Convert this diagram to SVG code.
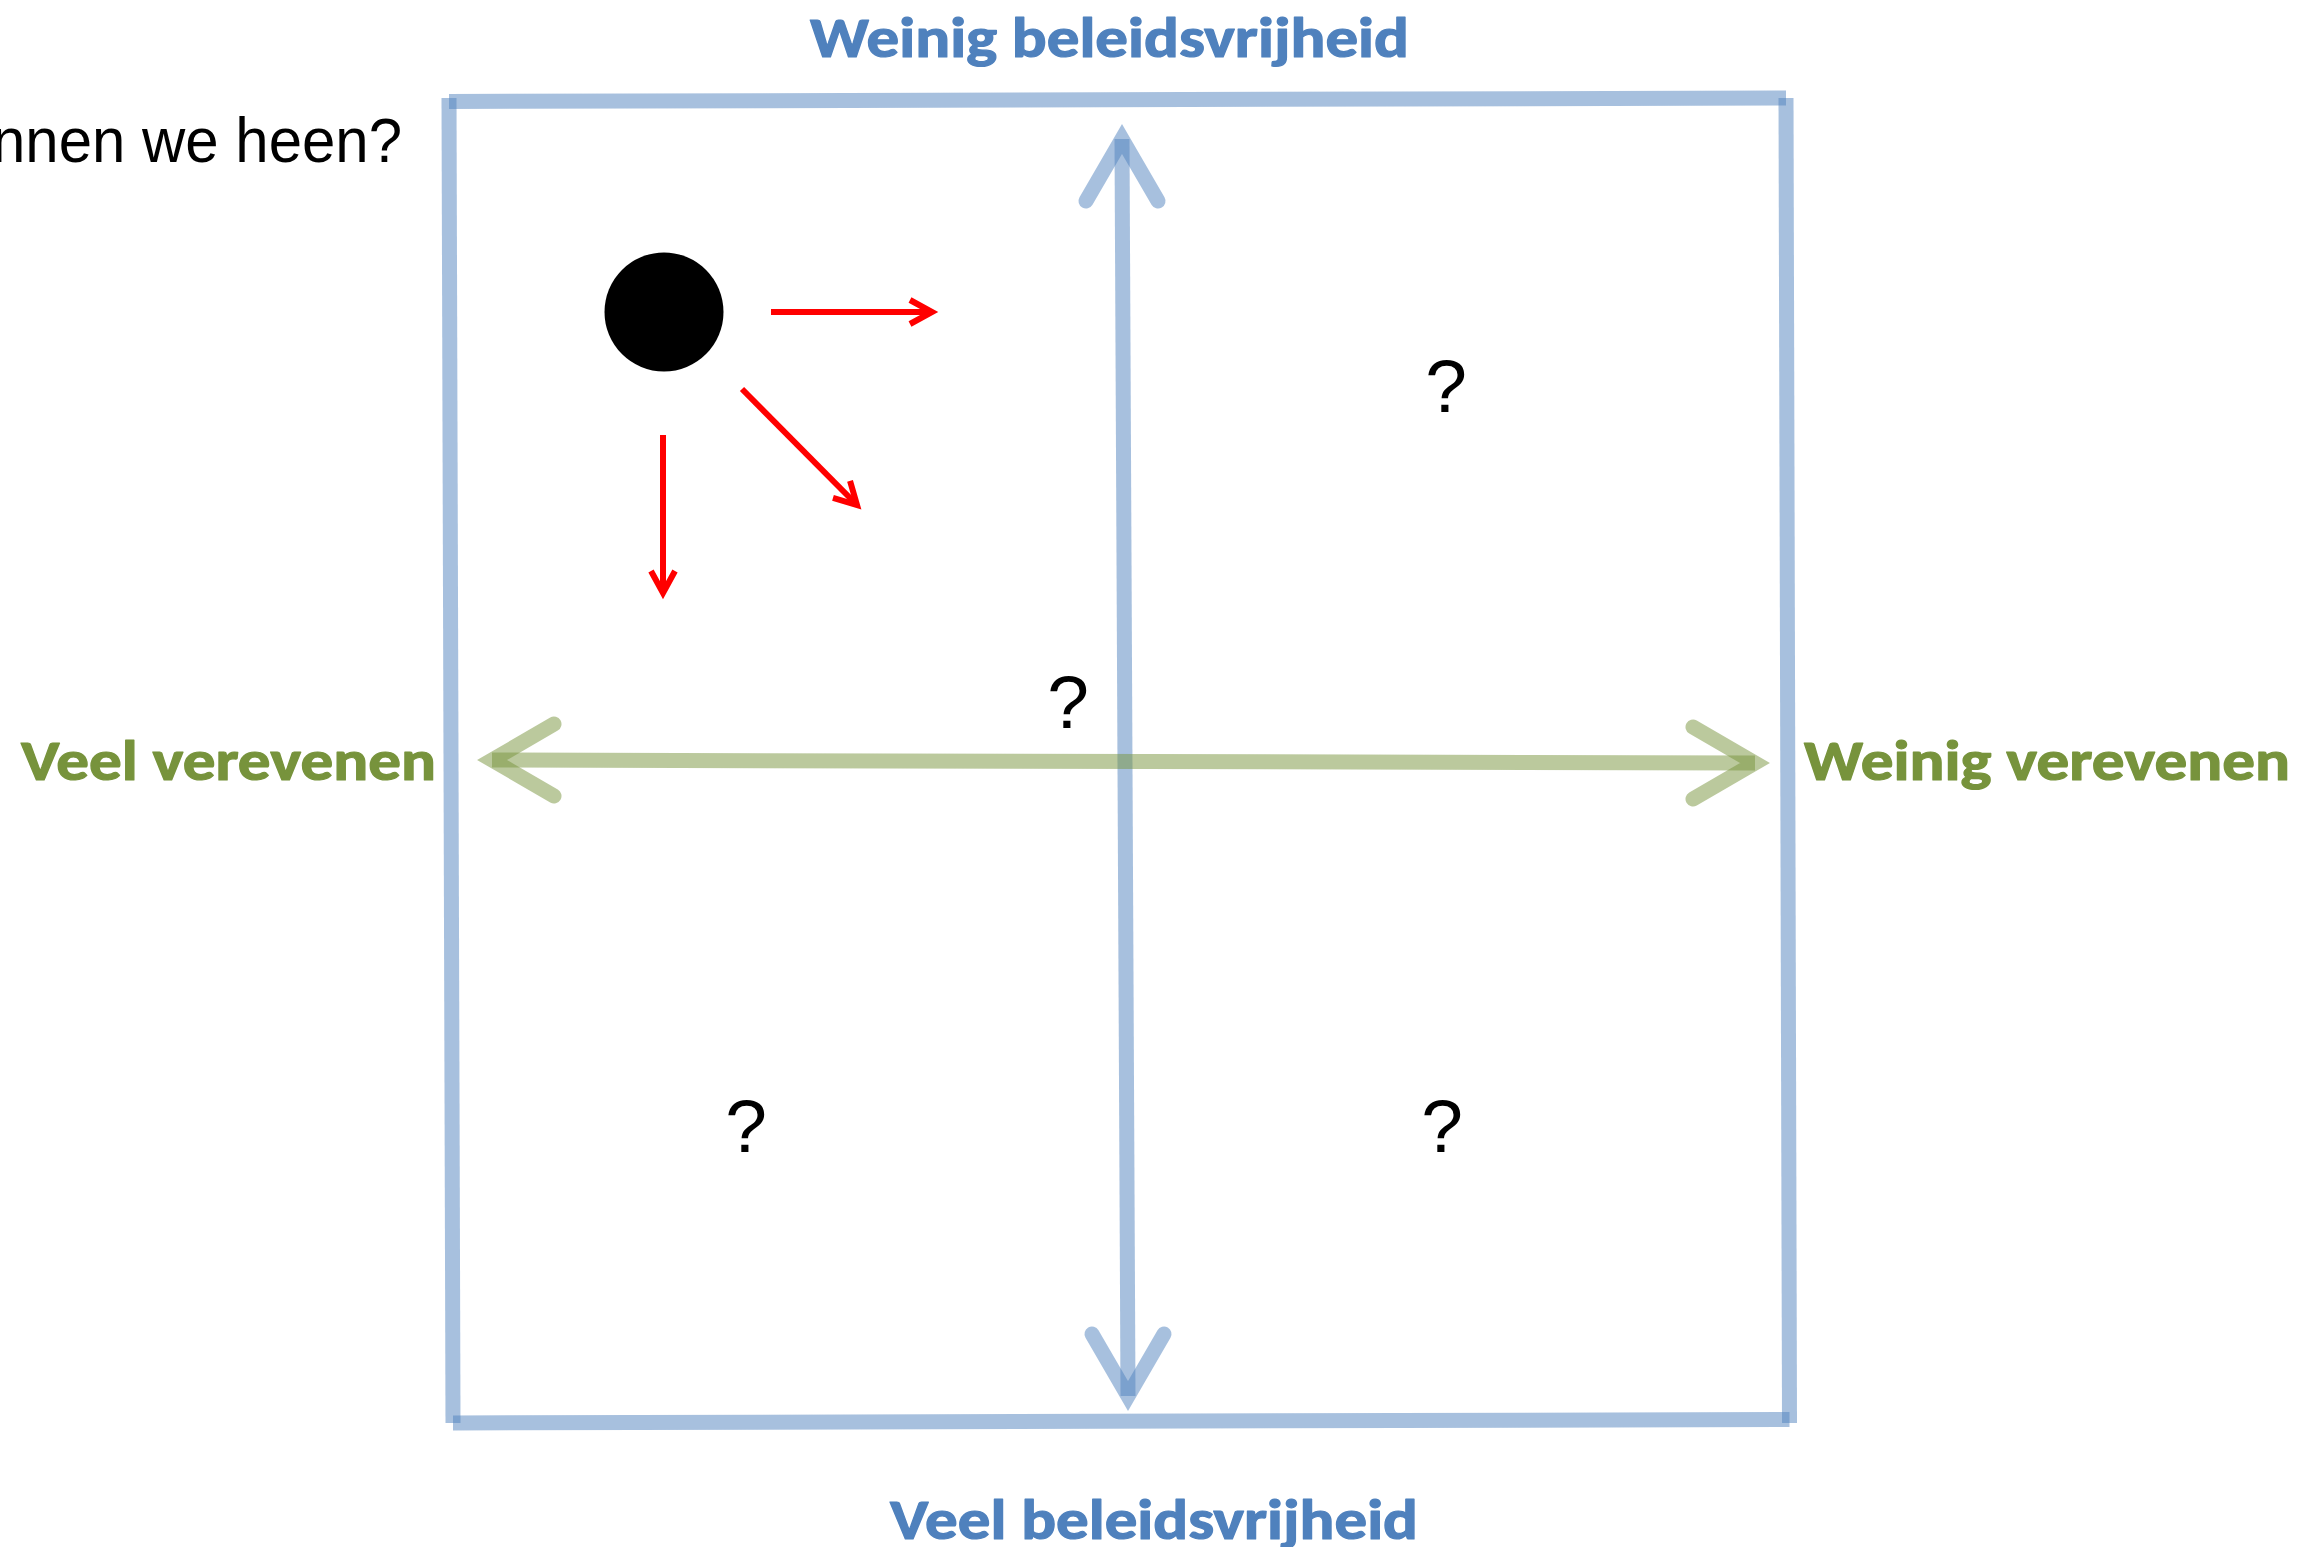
<svg xmlns="http://www.w3.org/2000/svg" width="2323" height="1547" viewBox="0 0 2323 1547">
  <defs>
    <style>
      .frame { fill: none; stroke: #4F81BD; stroke-opacity: 0.5; stroke-width: 15; stroke-linecap: butt; }
      .shaft-b { fill: none; stroke: #4F81BD; stroke-opacity: 0.5; stroke-width: 15; stroke-linecap: butt; }
      .head-b { fill: none; stroke: #4F81BD; stroke-opacity: 0.5; stroke-width: 15; stroke-linecap: round; stroke-linejoin: miter; }
      .shaft-g { fill: none; stroke: #77933C; stroke-opacity: 0.5; stroke-width: 15; stroke-linecap: butt; }
      .head-g { fill: none; stroke: #77933C; stroke-opacity: 0.5; stroke-width: 15; stroke-linecap: round; stroke-linejoin: miter; }
      .red { fill: none; stroke: #FF0000; stroke-width: 6; marker-end: url(#redHead); }
      .lbl { font-family: Carlito, Lato, "Open Sans", sans-serif; font-weight: 700; font-size: 57px; stroke-width: 1.2; stroke-linejoin: round; }
      .lbl-b { fill: #4F81BD; stroke: #4F81BD; }
      .lbl-g { fill: #77933C; stroke: #77933C; }
      .q { font-family: "Liberation Sans", Arial, sans-serif; font-size: 75px; fill: #000000; text-anchor: middle; }
      .title { font-family: "Liberation Sans", Arial, sans-serif; font-size: 63px; fill: #000000; }
    </style>
    <marker id="redHead" markerUnits="userSpaceOnUse" markerWidth="40" markerHeight="40" viewBox="-30 -20 40 40" refX="0" refY="0" orient="auto">
      <path d="M-22,-12 L0,0 L-22,12" fill="none" stroke="#FF0000" stroke-width="6"/>
    </marker>
  </defs>

  <rect x="0" y="0" width="2323" height="1547" fill="#FFFFFF"/>

  <g id="title">
    <text class="title" x="-8" y="162" textLength="410" lengthAdjust="spacingAndGlyphs">nnen we heen?</text>
  </g>

  <g id="frame">
    <line class="frame" x1="449" y1="101.5" x2="1786" y2="98"/>
    <line class="frame" x1="1786" y1="98" x2="1789.5" y2="1423"/>
    <line class="frame" x1="1789.5" y1="1419.5" x2="453" y2="1423"/>
    <line class="frame" x1="453" y1="1423" x2="449" y2="98"/>
  </g>

  <g id="connectors">
    <g id="axis-vertical">
      <line class="shaft-b" x1="1122" y1="139" x2="1128" y2="1396"/>
      <polyline class="head-b" points="1086,201 1122,139 1158,201"/>
      <polyline class="head-b" points="1092,1334 1128,1396 1164,1334"/>
    </g>
    <g id="axis-horizontal">
      <line class="shaft-g" x1="492" y1="760" x2="1755" y2="763"/>
      <polyline class="head-g" points="554,724 492,760 554,796"/>
      <polyline class="head-g" points="1693,727 1755,763 1693,799"/>
    </g>
    <g id="red-arrows">
      <line class="red" x1="771" y1="312" x2="932" y2="312"/>
      <line class="red" x1="742" y1="389" x2="857" y2="505"/>
      <line class="red" x1="663" y1="435" x2="663" y2="593"/>
    </g>
  </g>

  <g id="dot">
    <circle cx="664" cy="312" r="59.5" fill="#000000"/>
  </g>

  <g id="q-top-right"><text class="q" x="1446" y="412">?</text></g>
  <g id="q-center"><text class="q" x="1068" y="728">?</text></g>
  <g id="q-bottom-left"><text class="q" x="746" y="1152">?</text></g>
  <g id="q-bottom-right"><text class="q" x="1442" y="1152">?</text></g>

  <g id="label-top">
    <text class="lbl lbl-b" x="810" y="57" textLength="599" lengthAdjust="spacingAndGlyphs">Weinig beleidsvrijheid</text>
  </g>
  <g id="label-bottom">
    <text class="lbl lbl-b" x="890" y="1539" textLength="528" lengthAdjust="spacingAndGlyphs">Veel beleidsvrijheid</text>
  </g>
  <g id="label-left">
    <text class="lbl lbl-g" x="21" y="780" textLength="415" lengthAdjust="spacingAndGlyphs">Veel verevenen</text>
  </g>
  <g id="label-right">
    <text class="lbl lbl-g" x="1804" y="780" textLength="486" lengthAdjust="spacingAndGlyphs">Weinig verevenen</text>
  </g>
</svg>
